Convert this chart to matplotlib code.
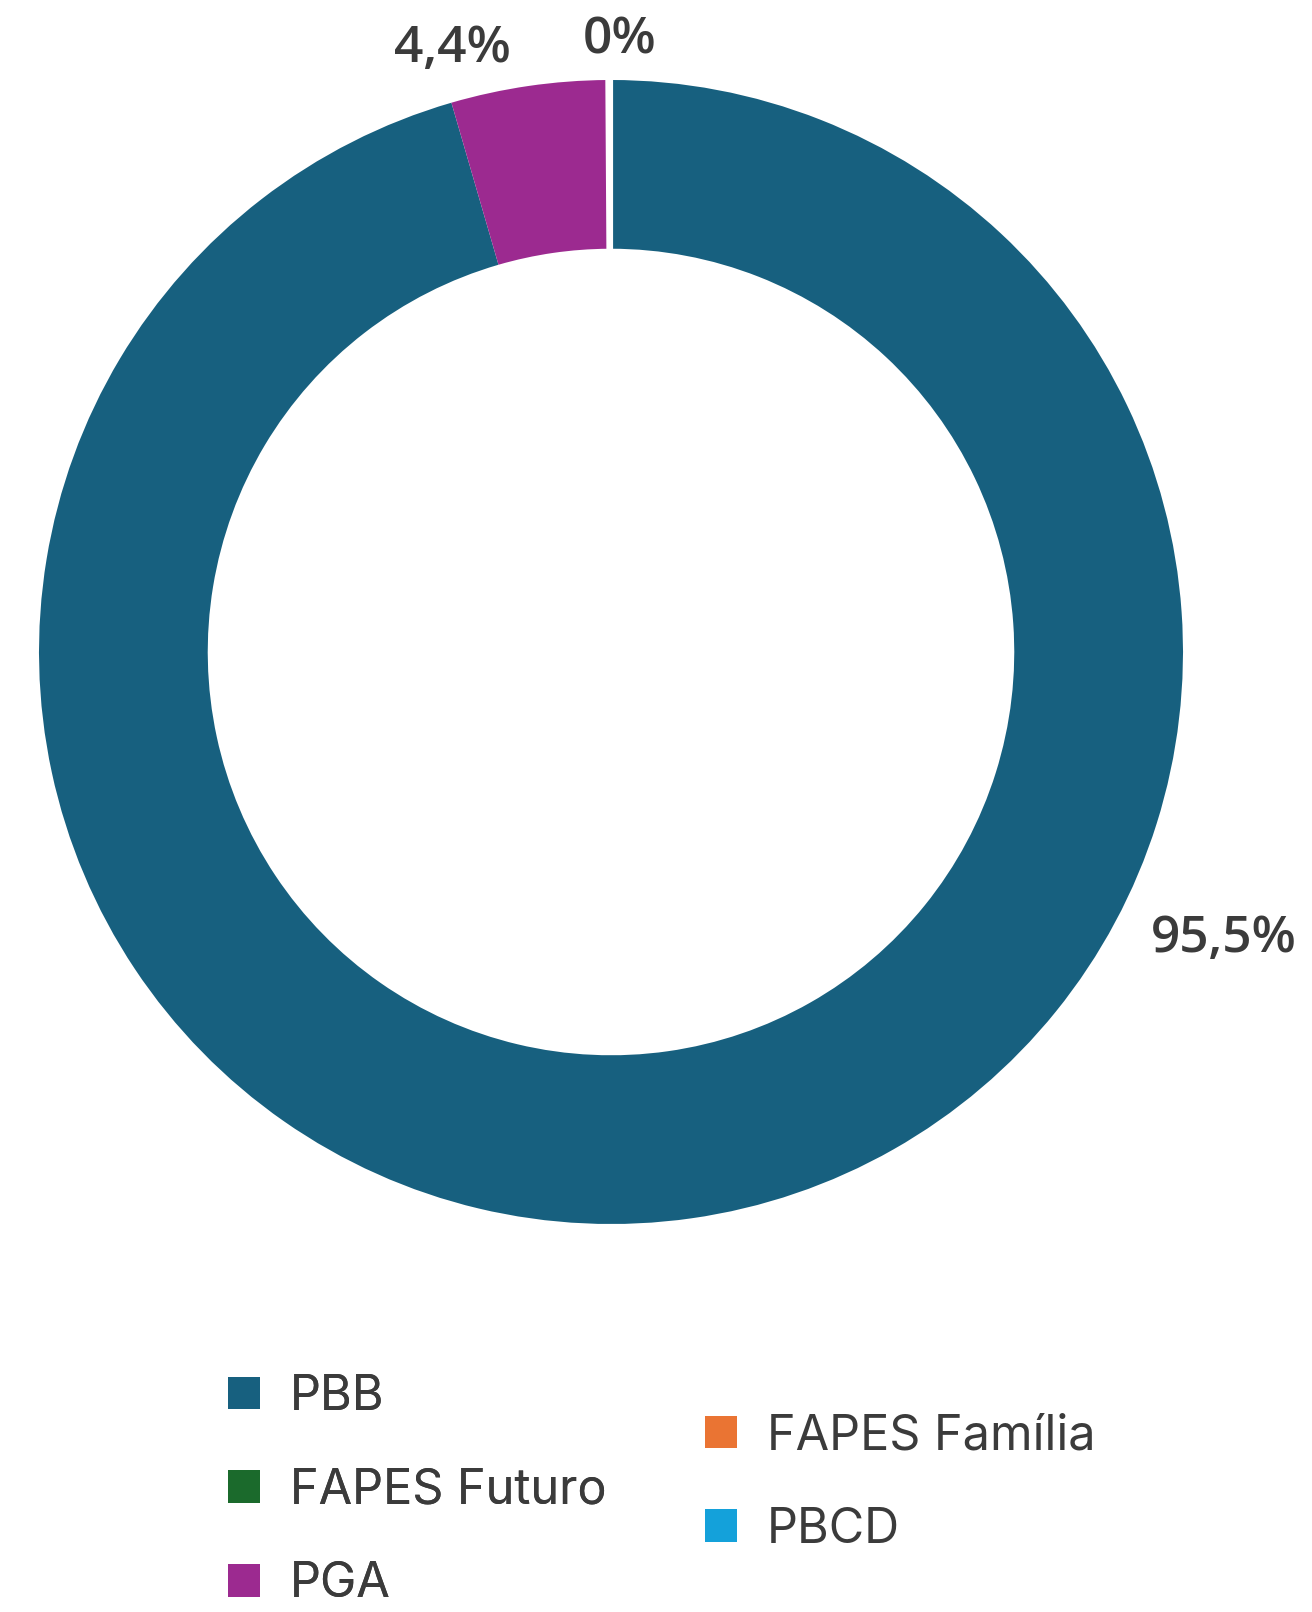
import matplotlib.pyplot as plt
from matplotlib.patches import Patch

# data
categories = ["PBB", "FAPES Futuro", "PGA", "FAPES Família", "PBCD"]
shares = [95.5, 0.0, 4.4, 0.1, 0.0]
share_labels = ["95,5%", "", "4,4%", "0%", ""]
colors = ["#17607f", "#1b6a2c", "#9c2a90", "#ea7433", "#14a1da"]

text_color = "#3b3b3b"
W, H = 1312, 1612
fig = plt.figure(figsize=(W / 100, H / 100), dpi=100)
fig.patch.set_facecolor("white")

# donut: centre (611, 652) px from top-left, outer radius 572 px
cx, cy, r = 611, 652, 572
ax = fig.add_axes([(cx - r) / W, (H - cy - r) / H, 2 * r / W, 2 * r / H])
wedges, _ = ax.pie(shares, colors=colors, startangle=90, counterclock=False,
                   radius=1.0, wedgeprops=dict(width=0.295, linewidth=0))
# the tiny slice shows as a white gap
for w, v in zip(wedges, shares):
    if 0 < v < 1:
        w.set_edgecolor("white")
        w.set_linewidth(3)
ax.set_xlim(-1, 1)
ax.set_ylim(-1, 1)
ax.set_aspect("equal")
ax.axis("off")

# percentage labels (pixel positions from the reference)
label_pos = {"95,5%": (1224, 939), "4,4%": (452, 49), "0%": (620, 41)}
for lab in share_labels:
    if lab:
        x, y = label_pos[lab]
        fig.text(x / W, 1 - y / H, lab, ha="center", va="center",
                 fontsize=37, fontweight="semibold", family="Open Sans",
                 color=text_color)

# legend in two offset columns
handles = [Patch(facecolor=c, edgecolor="none") for c in colors]
leg_kw = dict(frameon=False, handlelength=0.66, handleheight=0.66,
              handletextpad=0.62, labelspacing=0.98, borderaxespad=0, borderpad=0,
              prop=dict(family="Inter", size=35))
leg1 = fig.legend(handles[:3], categories[:3], loc="upper left",
                  bbox_to_anchor=(228 / W, 1 - 1374 / H), **leg_kw)
leg2 = fig.legend(handles[3:], categories[3:], loc="upper left",
                  bbox_to_anchor=(705 / W, 1 - 1413 / H), **leg_kw)
for leg in (leg1, leg2):
    for t in leg.get_texts():
        t.set_color(text_color)
fig.add_artist(leg1)

fig.savefig("out.png", dpi=100, facecolor="white")
